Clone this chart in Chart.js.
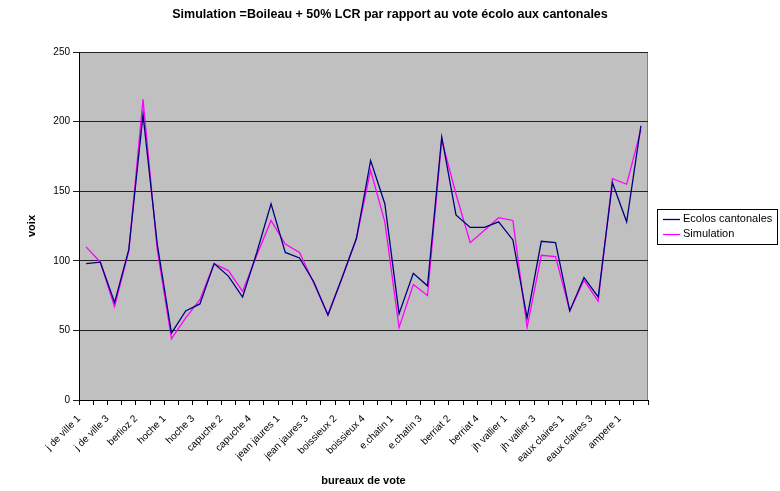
<!DOCTYPE html>
<html><head><meta charset="utf-8">
<script src="https://cdn.jsdelivr.net/npm/chart.js@4.4.0/dist/chart.umd.min.js"></script>
<style>html,body{margin:0;padding:0;background:#fff;}#wrap{width:780px;height:491px;position:relative}</style>
</head><body><div id="wrap"><canvas id="c" width="780" height="491"></canvas></div>
<script>
const categories = [
  'j de ville 1','j de ville 2','j de ville 3','berlioz 1','berlioz 2','berlioz 3',
  'hoche 1','hoche 2','hoche 3','capuche 1','capuche 2','capuche 3','capuche 4','capuche 5',
  'jean jaures 1','jean jaures 2','jean jaures 3','boissieux 1','boissieux 2','boissieux 3',
  'boissieux 4','boissieux 5','e.chatin 1','e.chatin 2','e.chatin 3','berriat 1','berriat 2',
  'berriat 3','berriat 4','berriat 5','jh vallier 1','jh vallier 2','jh vallier 3','jh vallier 4',
  'eaux claires 1','eaux claires 2','eaux claires 3','eaux claires 4','ampere 1','ampere 2'
];
const ecolosCantonales = [
  98, 99, 70, 108, 205, 112, 48, 64, 69, 98, 89, 74, 106, 141,
  106, 102, 85, 61, 88, 116, 172, 141, 62, 91, 82, 189, 133,
  124, 124, 128, 115, 59, 114, 113, 64, 88, 74, 156, 128, 197
];
const simulation = [
  110, 99, 67, 107, 216, 108, 44, 59, 72, 98, 93, 78, 104, 129,
  112, 106, 84, 61, 88, 116, 165, 128, 52, 83, 75, 187, 148,
  113, 122, 131, 129, 52, 104, 103, 64, 86, 71, 159, 155, 194
];
const yTicks = [0, 50, 100, 150, 200, 250];
const seriesNames = ['Ecolos cantonales', 'Simulation'];
const seriesColors = ['#000080', '#FF00FF'];

const FONT = 'Arial, "Liberation Sans", sans-serif';

const plotBg = {
  id: 'plotBg',
  beforeDraw(chart) {
    const {ctx, chartArea: a} = chart;
    ctx.save();
    ctx.fillStyle = '#C0C0C0';
    ctx.fillRect(a.left, a.top, a.right - a.left, a.bottom - a.top);
    ctx.strokeStyle = '#808080';
    ctx.lineWidth = 1;
    ctx.strokeRect(a.left + 0.5, a.top + 0.5, a.right - a.left - 1, a.bottom - a.top);
    ctx.restore();
  }
};

const boxLegend = {
  id: 'boxLegend',
  afterDraw(chart) {
    const {ctx} = chart;
    const x = 657, y = 209, w = 120, h = 35;
    ctx.save();
    ctx.fillStyle = '#fff';
    ctx.fillRect(x, y, w, h);
    ctx.strokeStyle = '#000';
    ctx.lineWidth = 1;
    ctx.strokeRect(x + 0.5, y + 0.5, w, h);
    ctx.font = '11px ' + FONT;
    ctx.textBaseline = 'middle';
    chart.data.datasets.forEach((ds, i) => {
      const yy = y + 9.5 + i * 15;
      ctx.strokeStyle = ds.borderColor;
      ctx.lineWidth = 1.3;
      ctx.beginPath();
      ctx.moveTo(x + 6, Math.round(yy) + 0.5);
      ctx.lineTo(x + 23, Math.round(yy) + 0.5);
      ctx.stroke();
      ctx.fillStyle = '#000';
      ctx.fillText(ds.label, x + 26, yy);
    });
    ctx.restore();
  }
};

new Chart(document.getElementById('c'), {
  type: 'line',
  data: {
    labels: categories,
    datasets: [
      {label: seriesNames[0], data: ecolosCantonales, borderColor: seriesColors[0], backgroundColor: seriesColors[0], borderWidth: 1.3, pointRadius: 0, tension: 0, fill: false},
      {label: seriesNames[1], data: simulation, borderColor: seriesColors[1], backgroundColor: seriesColors[1], borderWidth: 1.3, pointRadius: 0, tension: 0, fill: false}
    ]
  },
  options: {
    responsive: false,
    animation: false,
    devicePixelRatio: 1,
    layout: {padding: 0},
    plugins: {
      legend: {display: false},
      tooltip: {enabled: false},
      title: {
        display: true,
        text: 'Simulation =Boileau + 50% LCR par rapport au vote écolo aux cantonales',
        color: '#000',
        font: {family: FONT, size: 12.5, weight: 'bold'},
        padding: {top: 7, bottom: 30}
      }
    },
    scales: {
      x: {
        type: 'category',
        offset: true,
        grid: {offset: true, drawOnChartArea: false, drawTicks: true, tickLength: 5, color: '#000'},
        border: {color: '#000'},
        ticks: {
          autoSkip: false, maxRotation: 45, minRotation: 45, padding: 8, labelOffset: -7,
          color: '#000', font: {family: FONT, size: 10},
          callback: (v, i) => (i % 2 === 0 ? categories[i] : '')
        },
        title: {display: true, text: 'bureaux de vote', color: '#000', font: {family: FONT, size: 11, weight: 'bold'}, padding: {top: 0, bottom: 3.4}},
        afterFit: s => { s.height = 91; }
      },
      y: {
        min: 0, max: 250,
        afterBuildTicks: s => { s.ticks = yTicks.map(v => ({value: v})); },
        grid: {color: '#222', tickLength: 6, drawTicks: true},
        border: {color: '#000'},
        ticks: {padding: 3, color: '#000', font: {family: FONT, size: 10}},
        title: {display: true, text: 'voix', color: '#000', font: {family: FONT, size: 11, weight: 'bold'}, padding: {top: 25.4, bottom: 0}},
        afterFit: s => { s.width = 79; }
      },
      yr: {
        position: 'right',
        display: true,
        grid: {display: false, drawTicks: false},
        border: {display: false},
        ticks: {display: false},
        afterFit: s => { s.width = 132; }
      }
    }
  },
  plugins: [plotBg, boxLegend]
});
</script></body></html>
